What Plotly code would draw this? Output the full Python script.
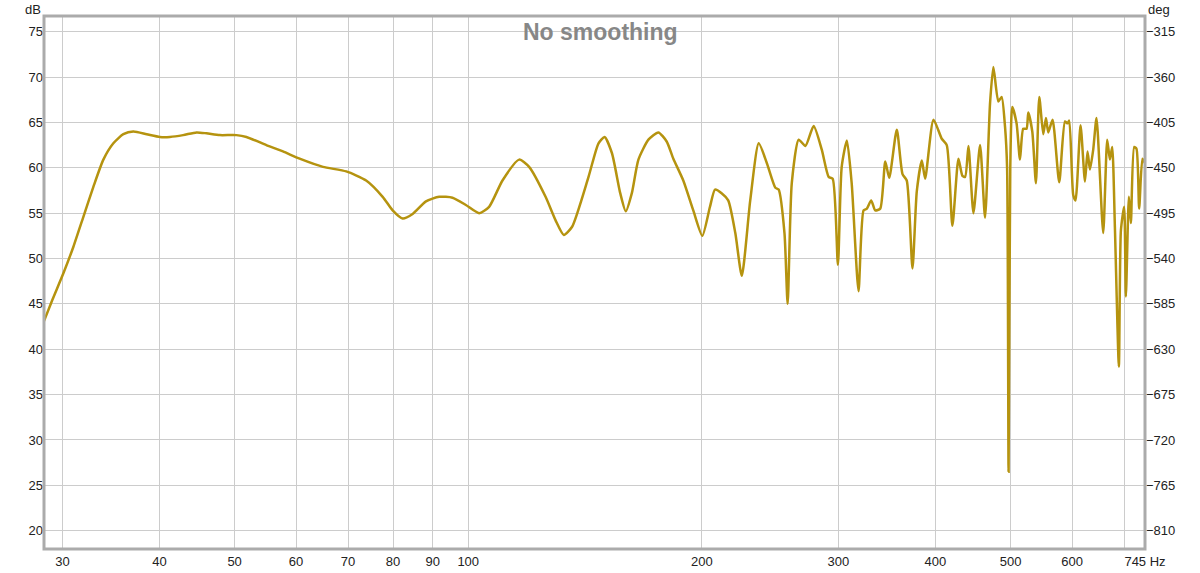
import math
import plotly.graph_objects as go

# Frequency (Hz) and SPL (dB)
freq_hz = [28.4, 29.1, 30.09, 30.99, 31.92, 32.88, 33.87, 34.89, 35.94, 37.02,
           38.52, 40.06, 41.26, 42.92, 44.66, 46.0, 47.85, 50.27, 51.78, 54.94,
           57.71, 60.64, 64.98, 69.64, 73.87, 77.58, 79.91, 82.31, 84.79, 88.22,
           91.75, 95.44, 99.3, 103.3, 106.4, 110.7, 116.3, 119.8, 125.8, 129.6,
           132.8, 136.1, 142.9, 147.2, 149.9, 153.2, 157.0, 159.6, 162.5, 165.7,
           170.7, 175.8, 180.2, 183.8, 189.3, 195.0, 200.3, 204.9, 208.0, 212.1,
           216.3, 220.9, 225.2, 230.9, 236.8, 242.6, 248.8, 251.2, 255.6, 258.0,
           261.2, 266.6, 272.0, 278.7, 285.5, 291.4, 294.9, 299.5, 302.9, 307.6,
           312.0, 318.4, 323.2, 326.4, 330.6, 334.6, 339.6, 344.7, 348.8, 356.7,
           362.8, 367.4, 373.7, 378.5, 384.2, 388.0, 397.7, 407.6, 413.7, 420.7,
           428.3, 433.4, 436.9, 441.2, 447.8, 456.7, 463.5, 470.4, 475.1, 482.1,
           486.9, 491.8, 494.8, 497.0, 499.5, 502.5, 508.9, 514.1, 519.1, 524.2,
           526.9, 533.2, 539.0, 544.4, 550.9, 555.3, 559.1, 566.3, 577.6, 587.5,
           592.0, 595.0, 602.1, 606.2, 615.3, 623.4, 628.2, 632.7, 638.9, 645.2,
           658.1, 666.0, 671.3, 675.9, 681.3, 689.4, 693.6, 700.3, 703.9, 710.2,
           714.4, 721.5, 726.4, 732.2, 739.4, 745.0]
spl_db = [43.1, 45.4, 48.4, 51.3, 54.6, 57.9, 60.9, 62.7, 63.7, 64.0,
          63.7, 63.4, 63.4, 63.6, 63.9, 63.8, 63.6, 63.6, 63.4, 62.5,
          61.8, 61.0, 60.1, 59.6, 58.6, 56.8, 55.3, 54.4, 54.9, 56.3,
          56.8, 56.7, 55.9, 55.0, 55.7, 58.6, 60.9, 60.1, 56.8, 54.2,
          52.6, 53.5, 59.0, 62.7, 63.4, 61.6, 57.2, 55.2, 57.2, 60.9,
          63.1, 63.9, 62.9, 61.0, 58.6, 55.3, 52.5, 55.7, 57.6, 57.2,
          56.4, 52.8, 48.1, 56.4, 62.7, 60.5, 57.8, 57.6, 52.8, 45.0,
          58.3, 63.1, 62.4, 64.6, 62.0, 59.0, 58.8, 49.3, 60.1, 63.0,
          58.3, 46.4, 55.3, 55.5, 56.4, 55.3, 55.5, 60.7, 58.9, 64.2,
          59.3, 58.6, 48.9, 57.4, 60.8, 58.8, 65.3, 63.2, 62.5, 53.6,
          61.0, 59.1, 59.0, 62.4, 55.0, 62.5, 54.5, 67.1, 71.1, 67.3,
          67.8, 64.5, 60.0, 26.5, 60.0, 66.7, 64.9, 60.9, 64.3, 64.3,
          66.1, 64.0, 58.3, 67.8, 63.7, 65.5, 63.9, 65.3, 58.4, 65.1,
          64.9, 65.2, 57.0, 56.4, 64.7, 58.5, 61.8, 59.8, 62.0, 65.5,
          52.8, 63.1, 60.9, 62.3, 53.5, 38.1, 53.1, 55.7, 45.8, 56.8,
          53.9, 62.3, 62.1, 55.5, 61.0, 60.5]

x_tick_vals = [30, 40, 50, 60, 70, 80, 90, 100, 200, 300, 400, 500, 600, 700, 745]
x_tick_text = ["30", "40", "50", "60", "70", "80", "90", "100", "200", "300",
               "400", "500", "600", "", "745 Hz"]
y_tick_vals = [20, 25, 30, 35, 40, 45, 50, 55, 60, 65, 70, 75]
deg_tick_vals = [-810, -765, -720, -675, -630, -585, -540, -495, -450, -405, -360, -315]

x_range_hz = [28.4, 745.0]
y_range_db = [17.98, 76.73]
# right axis: deg = -315 + (dB - 75) * 9
deg_range = [-315 + (y_range_db[0] - 75) * 9, -315 + (y_range_db[1] - 75) * 9]

FONT = "Liberation Sans, Arial, sans-serif"
GRID = "#cccccc"
TXT = "#222222"
TICK_SIZE = 13

fig = go.Figure()
fig.add_trace(go.Scatter(
    x=freq_hz, y=spl_db, mode="lines",
    line=dict(color="#B5930F", width=2.5, shape="spline", smoothing=0.6),
    hoverinfo="skip"))
fig.add_trace(go.Scatter(x=[], y=[], yaxis="y2", hoverinfo="skip"))

fig.update_layout(
    width=1200, height=573,
    margin=dict(l=44, r=55, t=16, b=24, pad=0, autoexpand=False),
    paper_bgcolor="white", plot_bgcolor="white",
    showlegend=False,
    font=dict(family=FONT, size=TICK_SIZE, color=TXT),
    xaxis=dict(type="log", range=[math.log10(x_range_hz[0]), math.log10(x_range_hz[1])],
               tickmode="array", tickvals=x_tick_vals, ticktext=x_tick_text,
               showgrid=True, gridcolor=GRID, gridwidth=1, zeroline=False,
               showline=False, ticks="", automargin=False, ticklabelstandoff=3,
               tickfont=dict(size=TICK_SIZE, color=TXT)),
    yaxis=dict(range=y_range_db, tickmode="array", tickvals=y_tick_vals,
               showgrid=True, gridcolor=GRID, gridwidth=1, zeroline=False,
               showline=False, ticks="", automargin=False,
               tickfont=dict(size=TICK_SIZE, color=TXT)),
    yaxis2=dict(range=deg_range, overlaying="y", side="right", tickmode="array",
                tickvals=deg_tick_vals, showgrid=False, zeroline=False,
                showline=False, ticks="", automargin=False,
                tickfont=dict(size=TICK_SIZE, color=TXT)),
    shapes=[
        dict(type="rect", xref="paper", yref="paper", x0=0, x1=1, y0=0, y1=1,
             line=dict(color="#ababab", width=3), layer="above"),
    ],
    annotations=[
        dict(text="<b>No smoothing</b>", xref="paper", yref="paper", x=0.5059, y=0.9705,
             xanchor="center", yanchor="middle", showarrow=False,
             font=dict(family=FONT, size=23, color="#878787")),
        dict(text="dB", xref="paper", yref="paper", x=-0.010, y=1.030,
             xanchor="center", yanchor="top", showarrow=False,
             font=dict(family=FONT, size=TICK_SIZE, color=TXT)),
        dict(text="deg", xref="paper", yref="paper", x=1.0127, y=1.030,
             xanchor="center", yanchor="top", showarrow=False,
             font=dict(family=FONT, size=TICK_SIZE, color=TXT)),
    ],
)

fig.write_html(
    "out.html",
    config={"displayModeBar": False},
    post_script="document.body.style.margin='0';document.body.style.overflow='hidden';",
)
